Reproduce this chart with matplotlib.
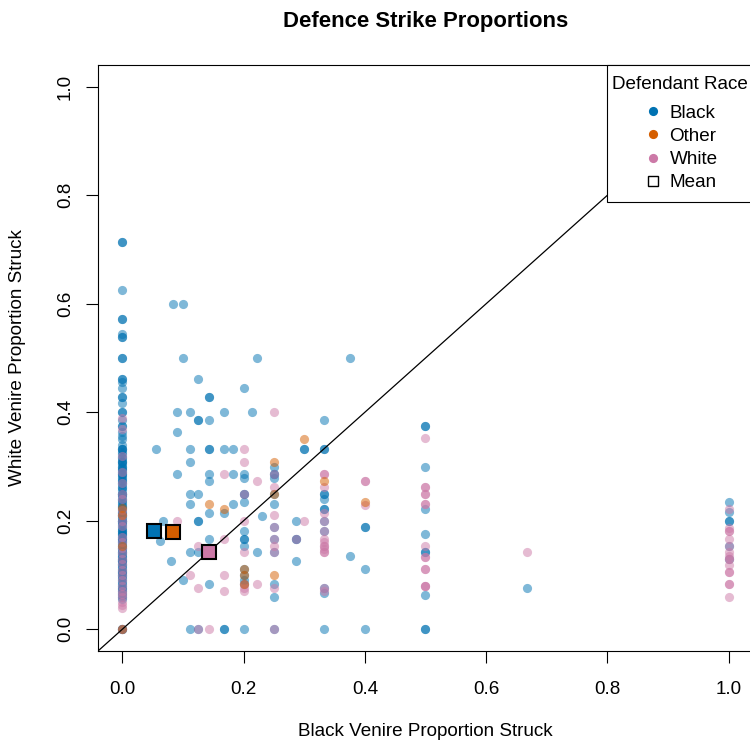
import numpy as np
import matplotlib
matplotlib.use("Agg")
import matplotlib.pyplot as plt
from matplotlib.lines import Line2D
from matplotlib.patches import Rectangle

plt.rcParams['font.family'] = ['Liberation Sans', 'DejaVu Sans']

# (black venire proportion struck, white venire proportion struck)
black_pts = [
    # x = 0 column
    (0, 0.714), (0, 0.714), (0, 0.625), (0, 0.571), (0, 0.571), (0, 0.545), (0, 0.538), (0, 0.538),
    (0, 0.5), (0, 0.5), (0, 0.462), (0, 0.462), (0, 0.455), (0, 0.444), (0, 0.429), (0, 0.429),
    (0, 0.417), (0, 0.4), (0, 0.4), (0, 0.385), (0, 0.375), (0, 0.375), (0, 0.364), (0, 0.357),
    (0, 0.35), (0, 0.34), (0, 0.333), (0, 0.333), (0, 0.333), (0, 0.327), (0, 0.323), (0, 0.318),
    (0, 0.316), (0, 0.31), (0, 0.308), (0, 0.308), (0, 0.304), (0, 0.3), (0, 0.3), (0, 0.296),
    (0, 0.294), (0, 0.29), (0, 0.286), (0, 0.286), (0, 0.283), (0, 0.278), (0, 0.276), (0, 0.273),
    (0, 0.27), (0, 0.267), (0, 0.263), (0, 0.261), (0, 0.256), (0, 0.25), (0, 0.25), (0, 0.25),
    (0, 0.245), (0, 0.24), (0, 0.238), (0, 0.235), (0, 0.231), (0, 0.227), (0, 0.225), (0, 0.222),
    (0, 0.217), (0, 0.214), (0, 0.211), (0, 0.208), (0, 0.205), (0, 0.2), (0, 0.2), (0, 0.2),
    (0, 0.196), (0, 0.192), (0, 0.188), (0, 0.185), (0, 0.182), (0, 0.182), (0, 0.178), (0, 0.176),
    (0, 0.174), (0, 0.171), (0, 0.167), (0, 0.167), (0, 0.163), (0, 0.16), (0, 0.158), (0, 0.154),
    (0, 0.15), (0, 0.148), (0, 0.143), (0, 0.143), (0, 0.139), (0, 0.136), (0, 0.133), (0, 0.13),
    (0, 0.128), (0, 0.125), (0, 0.125), (0, 0.12), (0, 0.118), (0, 0.115), (0, 0.111), (0, 0.108),
    (0, 0.105), (0, 0.103), (0, 0.1), (0, 0.098), (0, 0.095), (0, 0.091), (0, 0.088), (0, 0.083),
    (0, 0.08), (0, 0.077), (0, 0.074), (0, 0.071), (0, 0.067), (0, 0.063), (0, 0.059), (0, 0.056),
    (0, 0.0), (0, 0.0), (0, 0.0),
    # rest
    (0.083, 0.6), (0.1, 0.6), (0.1, 0.5), (0.222, 0.5), (0.375, 0.5), (0.125, 0.462), (0.2, 0.444),
    (0.143, 0.429), (0.143, 0.429), (0.091, 0.4), (0.111, 0.4), (0.167, 0.4), (0.214, 0.4),
    (0.125, 0.385), (0.125, 0.385), (0.143, 0.385), (0.333, 0.385), (0.091, 0.364),
    (0.5, 0.375), (0.5, 0.375), (0.056, 0.333), (0.111, 0.333), (0.143, 0.333), (0.143, 0.333),
    (0.167, 0.333), (0.182, 0.333), (0.3, 0.333), (0.3, 0.333), (0.333, 0.333), (0.333, 0.333),
    (0.111, 0.308), (0.25, 0.3), (0.5, 0.3), (0.091, 0.286), (0.143, 0.286), (0.182, 0.286),
    (0.2, 0.286), (0.25, 0.286), (0.25, 0.286), (0.2, 0.278), (0.25, 0.278), (0.143, 0.273),
    (0.111, 0.25), (0.125, 0.25), (0.2, 0.25), (0.2, 0.25), (0.25, 0.25), (0.333, 0.25), (0.333, 0.25),
    (0.2, 0.235), (0.333, 0.24), (0.111, 0.231), (0.182, 0.231), (0.25, 0.231), (0.143, 0.214),
    (0.167, 0.214), (0.231, 0.208), (0.333, 0.222), (0.333, 0.222), (0.5, 0.222), (0.067, 0.2),
    (0.125, 0.2), (0.125, 0.2), (0.333, 0.2), (0.286, 0.2), (0.25, 0.188), (0.4, 0.188), (0.4, 0.188),
    (0.2, 0.182), (0.333, 0.182), (0.2, 0.167), (0.2, 0.167), (0.143, 0.167), (0.25, 0.167),
    (0.286, 0.167), (0.286, 0.167), (0.063, 0.162), (0.2, 0.154), (0.5, 0.176), (0.111, 0.143),
    (0.125, 0.143), (0.222, 0.143), (0.25, 0.143), (0.5, 0.143), (0.5, 0.143), (0.375, 0.136),
    (0.08, 0.125), (0.286, 0.125), (0.2, 0.111), (0.4, 0.111), (0.1, 0.091), (0.2, 0.1), (0.2, 0.091),
    (0.143, 0.083), (0.2, 0.083), (0.25, 0.083), (0.333, 0.077), (0.333, 0.067), (0.5, 0.063),
    (0.25, 0.059), (0.667, 0.077), (0.111, 0), (0.125, 0), (0.167, 0), (0.167, 0), (0.2, 0),
    (0.25, 0), (0.333, 0), (0.4, 0), (0.5, 0), (0.5, 0),
    (1, 0.235), (1, 0.217), (1, 0.2), (1, 0.2), (1, 0.154), (1, 0.13),
]

white_pts = [
    (0, 0.39), (0, 0.37), (0, 0.32), (0, 0.29), (0, 0.27), (0, 0.25), (0, 0.24), (0, 0.22),
    (0, 0.21), (0, 0.2), (0, 0.19), (0, 0.17), (0, 0.16), (0, 0.15), (0, 0.14), (0, 0.13),
    (0, 0.12), (0, 0.11), (0, 0.1), (0, 0.09), (0, 0.08), (0, 0.07), (0, 0.065), (0, 0.06),
    (0, 0.05), (0, 0.045), (0, 0.04), (0, 0.0),
    (0.25, 0.4), (0.5, 0.353), (0.2, 0.333), (0.2, 0.308), (0.167, 0.286), (0.222, 0.273),
    (0.25, 0.263), (0.25, 0.286), (0.2, 0.25), (0.25, 0.21), (0.091, 0.2), (0.2, 0.2),
    (0.25, 0.188), (0.167, 0.167), (0.25, 0.167), (0.125, 0.154), (0.25, 0.154), (0.2, 0.143),
    (0.25, 0.143), (0.111, 0.1), (0.167, 0.1), (0.222, 0.083), (0.2, 0.083), (0.125, 0.077),
    (0.2, 0.077), (0.25, 0.077), (0.167, 0.071), (0.2, 0.071), (0.125, 0), (0.143, 0), (0.25, 0),
    (0.333, 0.286), (0.333, 0.286), (0.333, 0.263), (0.4, 0.273), (0.4, 0.273),
    (0.5, 0.263), (0.5, 0.263), (0.5, 0.25), (0.5, 0.25), (0.5, 0.231), (0.5, 0.231),
    (0.333, 0.214), (0.3, 0.2), (0.333, 0.2), (0.4, 0.23), (0.333, 0.182), (0.286, 0.167),
    (0.333, 0.167), (0.333, 0.16), (0.333, 0.154), (0.333, 0.154), (0.333, 0.148),
    (0.333, 0.143), (0.333, 0.143), (0.5, 0.154), (0.5, 0.133), (0.5, 0.133), (0.5, 0.111),
    (0.5, 0.111), (0.5, 0.08), (0.5, 0.08), (0.5, 0.08), (0.333, 0.077), (0.333, 0.071),
    (0.667, 0.143),
    (1, 0.222), (1, 0.186), (1, 0.182), (1, 0.182), (1, 0.167), (1, 0.154), (1, 0.143),
    (1, 0.136), (1, 0.13), (1, 0.13), (1, 0.118), (1, 0.105), (1, 0.105), (1, 0.083),
    (1, 0.083), (1, 0.059),
]

other_pts = [
    (0, 0.224), (0, 0.211), (0, 0.154), (0, 0.0),
    (0.3, 0.35), (0.25, 0.308), (0.143, 0.231), (0.167, 0.222), (0.333, 0.273), (0.4, 0.235),
    (0.25, 0.1), (0.2, 0.083), (0.2, 0.111), (0.2, 0.1), (0.25, 0.25),
]

races = ["Black", "Other", "White"]
race_colors = {"Black": "#0072B2", "Other": "#D55E00", "White": "#CC79A7"}
mean_x = {"Black": 0.052, "Other": 0.083, "White": 0.143}
mean_y = {"Black": 0.181, "Other": 0.179, "White": 0.143}

fs = 13.6
W, H = 750, 745
ax_l, ax_b, ax_w, ax_h = 98, 94, 655, 586   # pixels

fig = plt.figure(figsize=(W / 100, H / 100), dpi=100)
ax = fig.add_axes([ax_l / W, ax_b / H, ax_w / W, ax_h / H])

for race, pts in [("Black", black_pts), ("White", white_pts), ("Other", other_pts)]:
    arr = np.array(pts)
    ax.plot(arr[:, 0], arr[:, 1], 'o', ms=6.6, mew=0, color=race_colors[race], alpha=0.5, zorder=2)

ax.plot([-0.04, 1.04], [-0.04, 1.04], color='black', lw=0.9, zorder=3)

for race in races:
    ax.plot(mean_x[race], mean_y[race], 's', ms=9.5, mfc=race_colors[race], mec='black', mew=1.5, zorder=4)

ax.set_xlim(-0.04, 1.04)
ax.set_ylim(-0.04, 1.04)
ticks = np.arange(0, 1.01, 0.2)
ax.set_xticks(ticks)
ax.set_yticks(ticks)
ax.set_xticklabels([f"{t:.1f}" for t in ticks])
ax.set_yticklabels([f"{t:.1f}" for t in ticks], rotation=90, va='center')
ax.tick_params(axis='both', direction='out', length=8.3, width=0.8, labelsize=fs, color='black')
ax.tick_params(axis='x', pad=13)
ax.tick_params(axis='y', pad=9)
for sp in ax.spines.values():
    sp.set_linewidth(0.8)

# legend box (right part runs off the figure, as in the original)
box_x0 = (607 - ax_l) / ax_w
box_y0 = (651 - 202) / ax_h
ax.add_patch(Rectangle((box_x0, box_y0), 1.05 - box_x0, 1 - box_y0, transform=ax.transAxes,
                       facecolor='white', edgecolor='black', lw=0.8, clip_on=False, zorder=5))

handles = [Line2D([], [], ls='none', marker='o', ms=6.6, mew=0, color=race_colors[r]) for r in races]
handles.append(Line2D([], [], ls='none', marker='s', ms=7, mfc='white', mec='black', mew=1))
leg = ax.legend(handles, races + ["Mean"], title="Defendant Race", loc='upper center',
                bbox_to_anchor=((680 - ax_l) / ax_w, (651 - 76) / ax_h), borderaxespad=0,
                frameon=False, fontsize=fs, title_fontsize=fs, borderpad=0,
                handlelength=1.1, handletextpad=0.33, labelspacing=0.31)
leg._legend_box.sep = 8.5
leg.set_zorder(6)

fig.text(425.5 / W, 1 - 21 / H, "Defence Strike Proportions", ha='center', va='center',
         fontsize=15.9, fontweight='bold')
fig.text(425.5 / W, 1 - 731 / H, "Black Venire Proportion Struck", ha='center', va='center',
         fontsize=fs)
fig.text(18 / W, 1 - 358 / H, "White Venire Proportion Struck", ha='center', va='center',
         fontsize=fs, rotation=90)

fig.savefig("out.png", dpi=100)
